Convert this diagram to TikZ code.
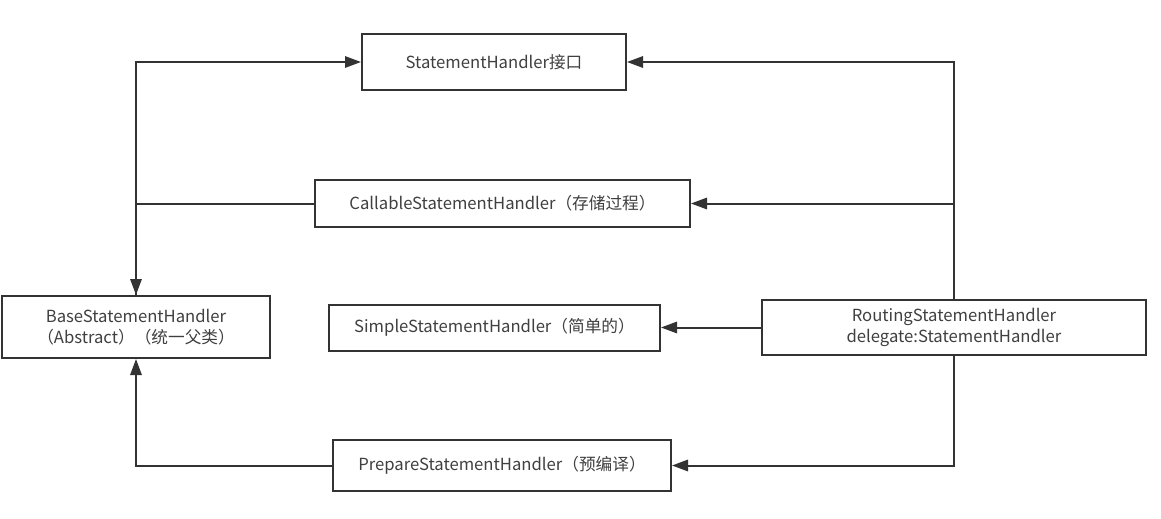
\documentclass[tikz,border=0pt]{standalone}
\usepackage{fontspec}
\setmainfont{Noto Sans CJK SC}
\usetikzlibrary{arrows.meta}

\definecolor{linegray}{HTML}{333333}
\definecolor{textgray}{HTML}{404040}

\tikzset{
	classbox/.style = {rectangle, draw = linegray, line width = 1.5pt, fill = white,
		text = textgray, align = center, inner sep = 0pt,
		font = \fontsize{12.5}{16}\selectfont},
	link/.style = {draw = linegray, line width = 1.5pt,
		-{Triangle[length = 12pt, width = 8.5pt]}}
}

\begin{document}
\begin{tikzpicture}[x = 0.75pt, y = -0.75pt]
\useasboundingbox (0,0) rectangle (1161,518);

\node[classbox,
	minimum width = 198pt,
	minimum height = 42pt] (stmt) at (494,62) {StatementHandler接口};
\node[classbox,
	minimum width = 281.25pt,
	minimum height = 35.25pt] (call) at (502.5,203.5) {CallableStatementHandler（存储过程）};
\node[classbox,
	minimum width = 201pt,
	minimum height = 46.5pt] (base) at (136,327) {BaseStatementHandler\\（Abstract）（统一父类）};
\node[classbox,
	minimum width = 248.25pt,
	minimum height = 34.5pt] (simple) at (494.5,327.5) {SimpleStatementHandler（简单的）};
\node[classbox,
	minimum width = 288pt,
	minimum height = 41.25pt] (route) at (954,327.5) {RoutingStatementHandler\\delegate:StatementHandler};
\node[classbox,
	minimum width = 253.5pt,
	minimum height = 38.25pt] (prep) at (502,465.5) {PrepareStatementHandler（预编译）};

% left side
\draw[link] (base.north) |- (stmt.west);
\draw[link] (call.west) -| (base.north);
\draw[link] (prep.west) -| (base.south);

% routing side
\draw[link] (route.north) |- (stmt.east);
\draw[link] (route.north) |- (call.east);
\draw[link] (route.west) -- (simple.east);
\draw[link] (route.south) |- (prep.east);
\end{tikzpicture}
\end{document}
